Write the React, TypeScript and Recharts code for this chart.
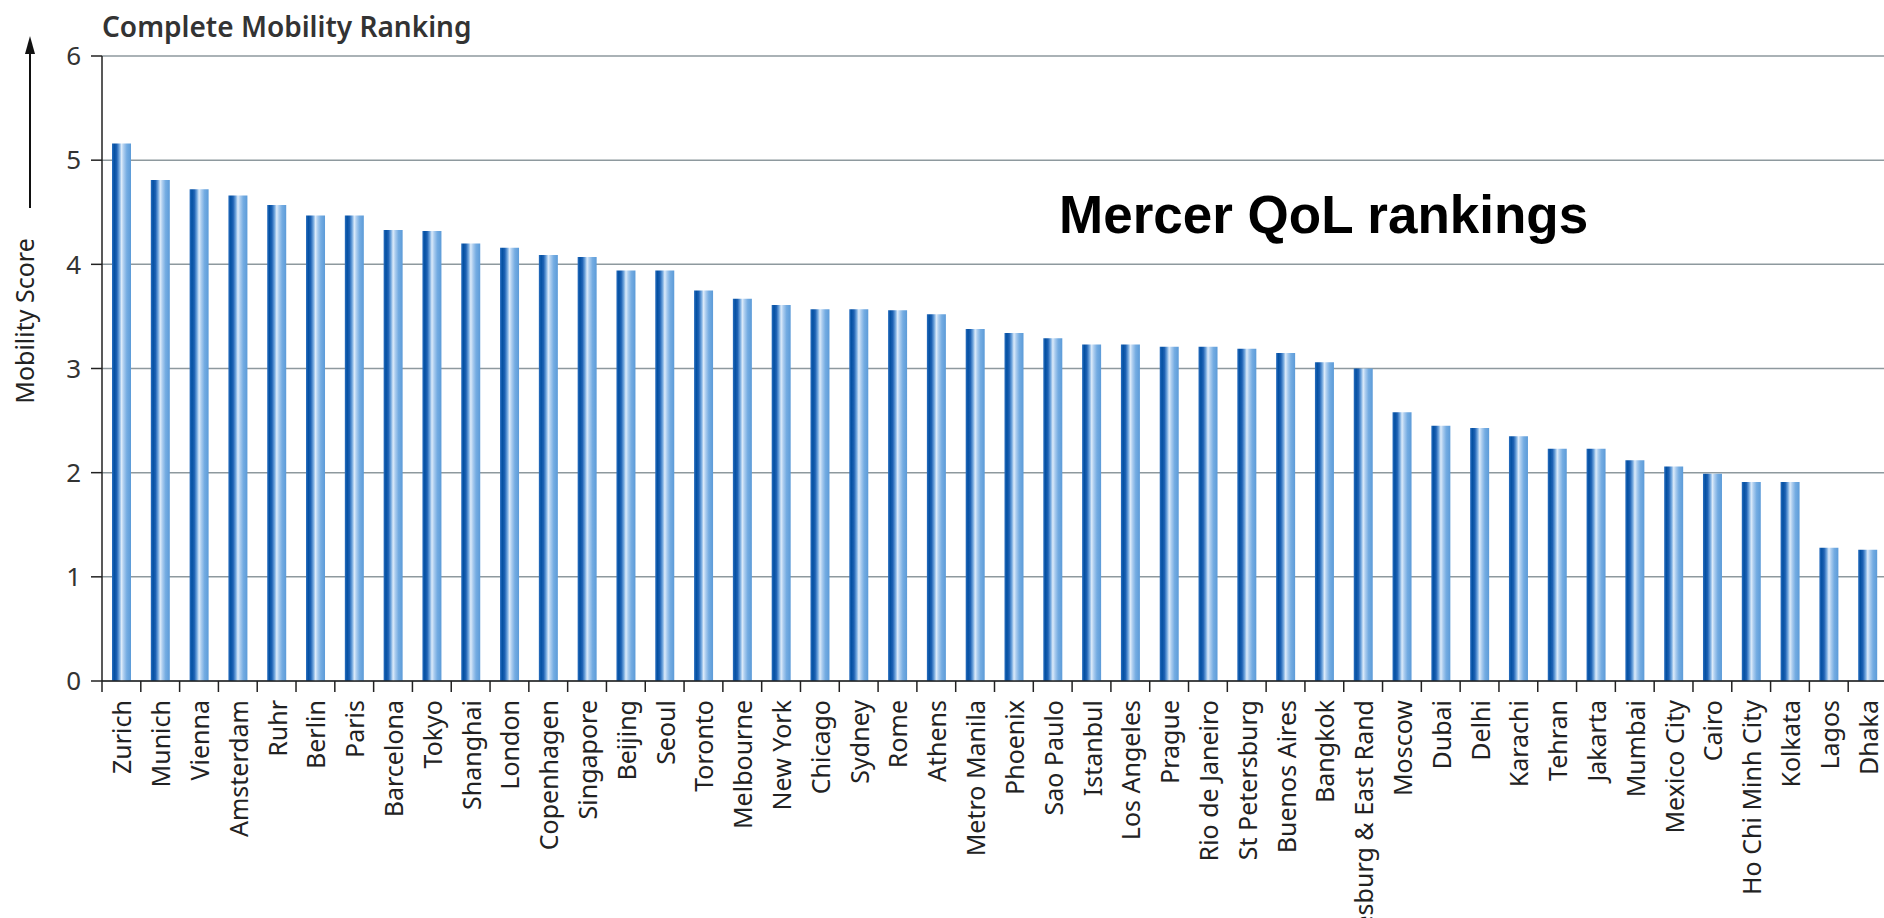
import { BarChart, Bar, XAxis, YAxis, CartesianGrid } from 'recharts';

const cities = [
  'Zurich', 'Munich', 'Vienna', 'Amsterdam', 'Ruhr', 'Berlin', 'Paris', 'Barcelona',
  'Tokyo', 'Shanghai', 'London', 'Copenhagen', 'Singapore', 'Beijing', 'Seoul',
  'Toronto', 'Melbourne', 'New York', 'Chicago', 'Sydney', 'Rome', 'Athens',
  'Metro Manila', 'Phoenix', 'Sao Paulo', 'Istanbul', 'Los Angeles', 'Prague',
  'Rio de Janeiro', 'St Petersburg', 'Buenos Aires', 'Bangkok',
  'Johannesburg & East Rand', 'Moscow', 'Dubai', 'Delhi', 'Karachi', 'Tehran',
  'Jakarta', 'Mumbai', 'Mexico City', 'Cairo', 'Ho Chi Minh City', 'Kolkata',
  'Lagos', 'Dhaka',
];

const scores = [
  5.16, 4.81, 4.72, 4.66, 4.57, 4.47, 4.47, 4.33,
  4.32, 4.2, 4.16, 4.09, 4.07, 3.94, 3.94,
  3.75, 3.67, 3.61, 3.57, 3.57, 3.56, 3.52,
  3.38, 3.34, 3.29, 3.23, 3.23, 3.21,
  3.21, 3.19, 3.15, 3.06,
  3.0, 2.58, 2.45, 2.43, 2.35, 2.23,
  2.23, 2.12, 2.06, 1.99, 1.91, 1.91,
  1.28, 1.26,
];

const yTicks = [0, 1, 2, 3, 4, 5, 6];

const data = cities.map((city, i) => ({ city, score: scores[i] }));

const W = 1890;
const H = 918;
const M = { top: 56, right: 3, left: 42, bottom: 0 };
const Y_AXIS_W = 60;
const band = (W - M.left - M.right - Y_AXIS_W) / cities.length;

const font = '"Noto Sans", "Open Sans", sans-serif';

function CityTick(props: any) {
  const { x, y, payload } = props;
  const left = x - band / 2;
  return (
    <g>
      <line x1={left} y1={y - 19} x2={left} y2={y - 8} stroke="#222" strokeWidth={1.5} />
      <text
        x={x}
        y={y}
        transform={`rotate(-90, ${x}, ${y})`}
        textAnchor="end"
        dominantBaseline="central"
        fontFamily={font}
        fontSize={25}
        fill="#222"
      >
        {payload.value}
      </text>
    </g>
  );
}

export default function App() {
  return (
    <div style={{ position: 'fixed', left: 0, top: 0, width: 1884, height: 918, overflow: 'hidden', background: '#fff' }}>
      <svg width={0} height={0} style={{ position: 'absolute' }}>
        <defs>
          <linearGradient id="barGrad" x1="0" y1="0" x2="1" y2="0">
            <stop offset="0%" stopColor="#2a6fc0" />
            <stop offset="12%" stopColor="#0450a2" />
            <stop offset="25%" stopColor="#1e62b4" />
            <stop offset="38%" stopColor="#6ea4dc" />
            <stop offset="50%" stopColor="#dcebfa" />
            <stop offset="62%" stopColor="#a9cbee" />
            <stop offset="78%" stopColor="#74ace2" />
            <stop offset="100%" stopColor="#5c9bd8" />
          </linearGradient>
        </defs>
      </svg>
      <BarChart width={W} height={H} data={data} margin={M} barSize={19}>
        <CartesianGrid vertical={false} stroke="#8e999e" strokeWidth={1.5} />
        <XAxis
          dataKey="city"
          interval={0}
          height={237}
          tickLine={false}
          tickSize={0}
          tick={<CityTick />}
          tickMargin={19}
          axisLine={{ stroke: '#222', strokeWidth: 1.5 }}
        />
        <YAxis
          domain={[0, 6]}
          ticks={yTicks}
          width={Y_AXIS_W}
          tickSize={11}
          tickMargin={10}
          tickLine={{ stroke: '#222', strokeWidth: 1.5 }}
          axisLine={{ stroke: '#222', strokeWidth: 1.5 }}
          tick={{ fontFamily: font, fontSize: 26, fill: '#333' }}
        />
        <Bar dataKey="score" fill="url(#barGrad)" isAnimationActive={false} />
      </BarChart>
      <svg width={1884} height={918} style={{ position: 'absolute', left: 0, top: 0, pointerEvents: 'none' }}>
        <text x={102} y={37} fontFamily={font} fontSize={28} fontWeight={600} fill="#333">
          Complete Mobility Ranking
        </text>
        <line x1={30} y1={208} x2={30} y2={50} stroke="#111" strokeWidth={2} />
        <polygon points="30,36 25,54 35,54" fill="#111" />
        <text
          x={34}
          y={321}
          transform="rotate(-90, 34, 321)"
          textAnchor="middle"
          fontFamily={font}
          fontSize={25}
          fill="#222"
        >
          Mobility Score
        </text>
        <text x={1059} y={233} fontFamily='"Liberation Sans", Arial, sans-serif' fontSize={53} fontWeight={700} fill="#000">
          Mercer QoL rankings
        </text>
      </svg>
    </div>
  );
}
